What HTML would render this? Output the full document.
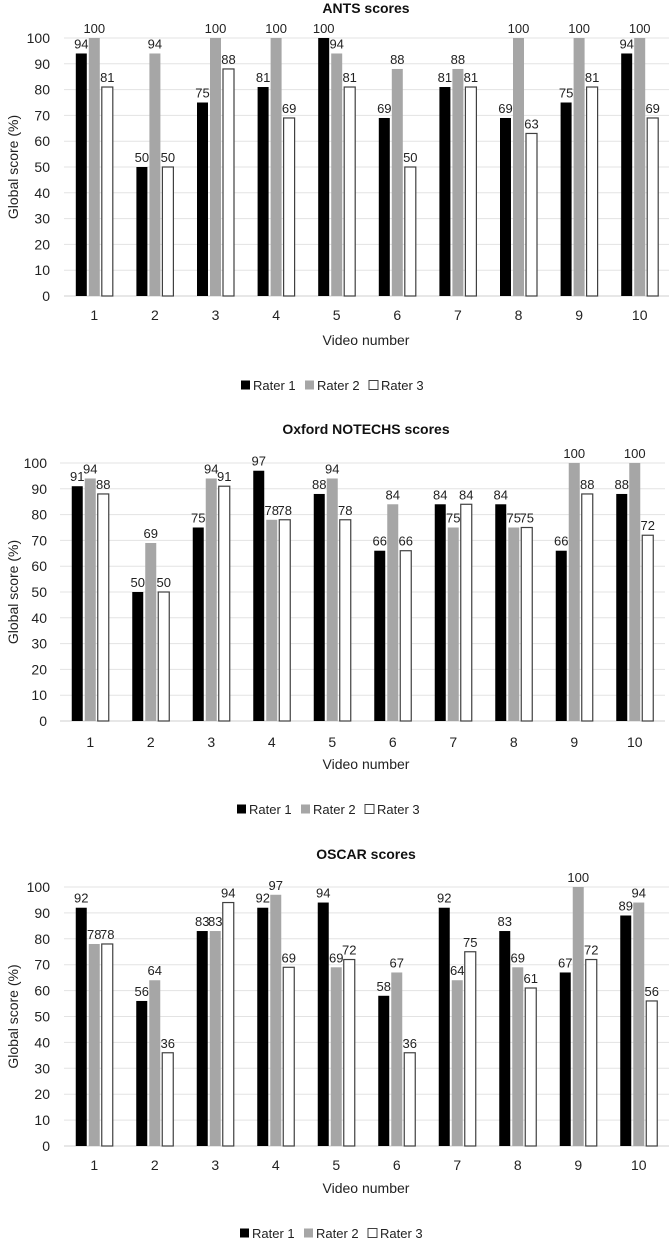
<!DOCTYPE html>
<html><head><meta charset="utf-8">
<style>
html,body{margin:0;padding:0;background:#fff;}
svg{display:block;font-family:"Liberation Sans",sans-serif;}
</style></head>
<body>
<svg id="c" width="669" height="1240" viewBox="0 0 669 1240" xmlns="http://www.w3.org/2000/svg"></svg>
<script>
const videos = ["1","2","3","4","5","6","7","8","9","10"];
const yTicks = [0,10,20,30,40,50,60,70,80,90,100];
const seriesNames = ["Rater 1","Rater 2","Rater 3"];
const chartTitles = ["ANTS scores","Oxford NOTECHS scores","OSCAR scores"];
const antsR1 = [94,50,75,81,100,69,81,69,75,94];
const antsR2 = [100,94,100,100,94,88,88,100,100,100];
const antsR3 = [81,50,88,69,81,50,81,63,81,69];
const notechsR1 = [91,50,75,97,88,66,84,84,66,88];
const notechsR2 = [94,69,94,78,94,84,75,75,100,100];
const notechsR3 = [88,50,91,78,78,66,84,75,88,72];
const oscarR1 = [92,56,83,92,94,58,92,83,67,89];
const oscarR2 = [78,64,83,97,69,67,64,69,100,94];
const oscarR3 = [78,36,94,69,72,36,75,61,72,56];

const NS="http://www.w3.org/2000/svg";
const svg=document.getElementById('c');
function mk(tag,attrs,parent){const e=document.createElementNS(NS,tag);for(const k in attrs)e.setAttribute(k,attrs[k]);(parent||svg).appendChild(e);return e;}
const fills=["#000000","#a6a6a6","#ffffff"];
const strokes=["none","none","#404040"];
const layouts=[
 {top:38,zero:296,left:64,gw:60.6,tick:50,lab:315,vn:340,leg:385,title:13,legX:241},
 {top:463,zero:721,left:60,gw:60.5,tick:47,lab:742,vn:764,leg:809,title:434,legX:237},
 {top:887,zero:1146,left:64,gw:60.5,tick:50,lab:1165,vn:1188,leg:1233,title:859,legX:240}
];
const allData=[[antsR1,antsR2,antsR3],[notechsR1,notechsR2,notechsR3],[oscarR1,oscarR2,oscarR3]];
const keys=["ants","notechs","oscar"];

allData.forEach((series,ci)=>{
  const L=layouts[ci];
  const g=mk('g',{});
  
  
  const y=v=>L.zero-(v/100)*(L.zero-L.top);
  const xc=i=>L.left+L.gw*(i+0.5);
  const right=L.left+L.gw*videos.length;
  yTicks.forEach(t=>{
    const gl=mk('line',{x1:L.left,x2:Math.min(right,669),y1:y(t),y2:y(t),stroke:t===0?'#cfcfcf':'#e3e3e3','stroke-width':1},g);
    
    
    const tl=mk('text',{x:L.tick,y:y(t)+5,'text-anchor':'end','font-size':14,fill:'#222'},g);
    tl.textContent=t;
    
    
  });
  const tt=mk('text',{x:366,y:L.title,'text-anchor':'middle','font-size':14,'font-weight':'bold',fill:'#111'},g);
  tt.textContent=chartTitles[ci];
  
  
  const ya=mk('text',{x:0,y:0,'text-anchor':'middle','font-size':14,fill:'#222',transform:`translate(18,${(L.top+L.zero)/2}) rotate(-90)`},g);
  ya.textContent='Global score (%)';
  
  
  const xa=mk('text',{x:366,y:L.vn+5,'text-anchor':'middle','font-size':14,fill:'#222'},g);
  xa.textContent='Video number';
  
  
  videos.forEach((v,i)=>{
    const xl=mk('text',{x:xc(i),y:L.lab+5,'text-anchor':'middle','font-size':14,fill:'#222'},g);
    xl.textContent=v;
    
    
    series.forEach((s,si)=>{
      const val=s[i];
      const cx=xc(i)+(si-1)*13;
      const r=mk('rect',{x:cx-5.5,y:y(val),width:11,height:L.zero-y(val),fill:fills[si],stroke:strokes[si],'stroke-width':1.2},g);
      
      
      const vl=mk('text',{x:cx,y:y(val)-5,'text-anchor':'middle','font-size':13,fill:'#222'},g);
      vl.textContent=val;
      
      
    });
  });
  seriesNames.forEach((n,si)=>{
    const lx=L.legX+si*64;
    const m=mk('rect',{x:lx,y:L.leg-4.5,width:9,height:9,fill:fills[si],stroke:strokes[si],'stroke-width':1},g);
    
    
    const lt=mk('text',{x:lx+12,y:L.leg+5,'font-size':13,fill:'#222'},g);
    lt.textContent=n;
    
    
  });
});
</script>
</body></html>
